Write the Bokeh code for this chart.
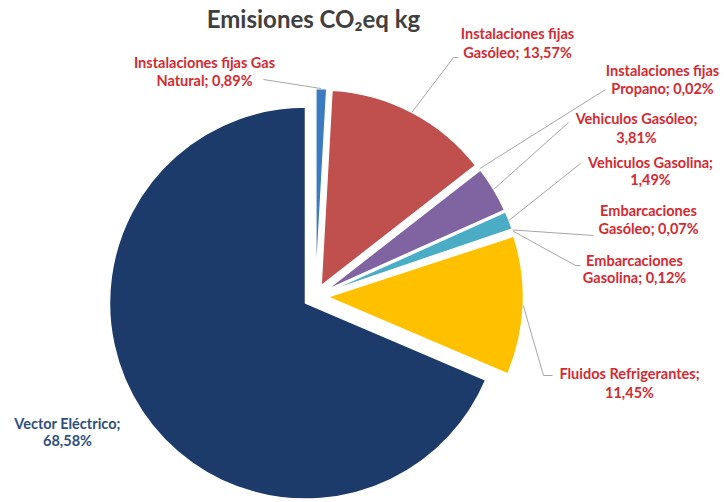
import math
from bokeh.plotting import figure
from bokeh.models import Range1d, ColumnDataSource
from bokeh.core.properties import value
from bokeh.embed import file_html
from bokeh.resources import INLINE

# ---- data ----
categories = ["Instalaciones fijas Gas Natural", "Instalaciones fijas Gasóleo",
              "Instalaciones fijas Propano", "Vehiculos Gasóleo", "Vehiculos Gasolina",
              "Embarcaciones Gasóleo", "Embarcaciones Gasolina", "Fluidos Refrigerantes",
              "Vector Eléctrico"]
percents = [0.89, 13.57, 0.02, 3.81, 1.49, 0.07, 0.12, 11.45, 68.58]
label_line1 = ["Instalaciones fijas Gas", "Instalaciones fijas", "Instalaciones fijas",
               "Vehiculos Gasóleo;", "Vehiculos Gasolina;", "Embarcaciones",
               "Embarcaciones", "Fluidos Refrigerantes;", "Vector Eléctrico;"]
label_line2 = ["Natural; 0,89%", "Gasóleo; 13,57%", "Propano; 0,02%", "3,81%", "1,49%",
               "Gasóleo; 0,07%", "Gasolina; 0,12%", "11,45%", "68,58%"]
title_text = "Emisiones CO\u2082eq kg"

# ---- styles / layout ----
colors = ["#3B7BC0", "#C0504D", "#F79646", "#8064A2", "#4BACC6", "#9BBB59",
          "#7F7F7F", "#FFC000", "#1C3B6A"]
label_colors = ["#D42A32"] * 8 + ["#2F4F80"]
W, H = 724, 502
CX, CY = 315, 296          # pie centre (pixel coords, y down)
R = 196
EXPLODE = 12
label_x = [204, 517, 662, 636, 650, 648, 634, 629, 67]
label_y1 = [62, 33, 70, 118, 162, 210, 260, 373, 423]
label_y2 = [80, 52, 88, 137, 179, 228, 277, 392, 440]
# leader line label-side points (pixel coords): elbow then end
leader_mid = [(263, 79), (453, 57), (605, 89), (568, 122), (580, 163), (593, 235),
              (575, 265), (543, 375), None]
leader_end = [(263, 79), (458, 57), (605, 89), (568, 122), (580, 163), (593, 235),
              (580, 265), (552, 375), None]


def py(y):
    return H - y


p = figure(width=W, height=H, output_backend="svg", toolbar_location=None,
           x_range=Range1d(0, W), y_range=Range1d(0, H), min_border=0)
p.axis.visible = False
p.grid.visible = False
p.outline_line_color = None
p.background_fill_color = "white"
p.border_fill_color = "white"

total = sum(percents)
cum = 0.0
wx, wy, starts, ends = [], [], [], []
arc_pts = []
for v in percents:
    a1 = cum / total * 2 * math.pi
    a2 = (cum + v) / total * 2 * math.pi
    mid = (a1 + a2) / 2
    cx = CX + EXPLODE * math.sin(mid)
    cy = py(CY) + EXPLODE * math.cos(mid)
    wx.append(cx)
    wy.append(cy)
    starts.append(math.pi / 2 - a1)
    ends.append(math.pi / 2 - a2)
    arc_pts.append((cx + R * math.sin(mid), cy + R * math.cos(mid)))
    cum += v

src = ColumnDataSource(dict(x=wx, y=wy, start=starts, end=ends, color=colors))
p.wedge(x="x", y="y", radius=R, start_angle="start", end_angle="end",
        direction="clock", fill_color="color", line_color="white", line_width=1.5,
        source=src)

# leader lines
xs, ys = [], []
for i in range(len(percents)):
    if leader_mid[i] is None:
        continue
    ax, ay = arc_pts[i]
    mx, my = leader_mid[i]
    ex, ey = leader_end[i]
    xs.append([ax, mx, ex])
    ys.append([ay, py(my), py(ey)])
p.multi_line(xs=xs, ys=ys, line_color="#A6A6A6", line_width=1)

# labels
lsrc = ColumnDataSource(dict(
    x=label_x + label_x,
    y=[py(v) for v in label_y1] + [py(v) for v in label_y2],
    t=label_line1 + label_line2,
    c=label_colors + label_colors))
p.text(x="x", y="y", text="t", text_color="c", source=lsrc,
       text_font=value("Lato"), text_font_style="bold", text_font_size="14.5px",
       text_align="center", text_baseline="middle")

# title
p.text(x=[313], y=[py(18)], text=[title_text], text_font=value("Lato"),
       text_font_style="bold", text_font_size="24px", text_color="#404040",
       text_align="center", text_baseline="middle")

open("out.html", "w").write(file_html(p, INLINE))
